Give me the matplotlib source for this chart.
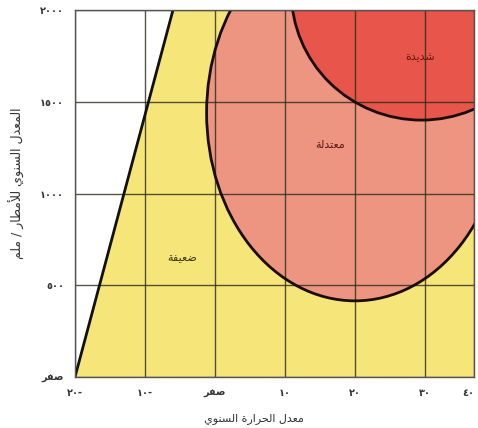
import matplotlib
matplotlib.use('Agg')
import matplotlib.pyplot as plt
from matplotlib.patches import Ellipse

# ---------------- data ----------------
x_ticks = [-20, -10, 0, 10, 20, 30, 37.0]
x_tick_labels = ['٢٠-', '١٠-', 'صفر', '١٠', '٢٠', '٣٠', '٤٠']
x_min, x_max = -20, 37.0
y_ticks = [0, 500, 1000, 1500, 2000]
y_tick_labels = ['صفر', '٥٠٠', '١٠٠٠', '١٥٠٠', '٢٠٠٠']
y_min, y_max = 0, 2000

boundary_x = [-20, -6]      # left limit of the weak zone
boundary_y = [0, 2000]

moderate_center = (20, 1440)
moderate_size = (42.4, 2050)
severe_center = (29.5, 2100)
severe_size = (37.2, 1400)

zone_names = ['ضعيفة', 'معتدلة', 'شديدة']
zone_label_x = [-4.7, 16.4, 29.3]
zone_label_y = [650, 1265, 1745]

x_label = 'معدل الحرارة السنوي'
y_label = 'المعدل السنوي للأمطار / ملم'

# ---------------- simple Arabic shaping ----------------
FORMS = {
    'ا': ('\uFE8D', '\uFE8E', None, None),
    'أ': ('\uFE83', '\uFE84', None, None),
    'ة': ('\uFE93', '\uFE94', None, None),
    'ت': ('\uFE95', '\uFE96', '\uFE97', '\uFE98'),
    'ح': ('\uFEA1', '\uFEA2', '\uFEA3', '\uFEA4'),
    'د': ('\uFEA9', '\uFEAA', None, None),
    'ر': ('\uFEAD', '\uFEAE', None, None),
    'س': ('\uFEB1', '\uFEB2', '\uFEB3', '\uFEB4'),
    'ش': ('\uFEB5', '\uFEB6', '\uFEB7', '\uFEB8'),
    'ص': ('\uFEB9', '\uFEBA', '\uFEBB', '\uFEBC'),
    'ض': ('\uFEBD', '\uFEBE', '\uFEBF', '\uFEC0'),
    'ط': ('\uFEC1', '\uFEC2', '\uFEC3', '\uFEC4'),
    'ع': ('\uFEC9', '\uFECA', '\uFECB', '\uFECC'),
    'ف': ('\uFED1', '\uFED2', '\uFED3', '\uFED4'),
    'ل': ('\uFEDD', '\uFEDE', '\uFEDF', '\uFEE0'),
    'م': ('\uFEE1', '\uFEE2', '\uFEE3', '\uFEE4'),
    'ن': ('\uFEE5', '\uFEE6', '\uFEE7', '\uFEE8'),
    'و': ('\uFEED', '\uFEEE', None, None),
    'ي': ('\uFEF1', '\uFEF2', '\uFEF3', '\uFEF4'),
}
LIGS = {('ل', 'ا'): ('\uFEFB', '\uFEFC'), ('ل', 'أ'): ('\uFEF7', '\uFEF8')}


def shape(text):
    items = []
    i = 0
    while i < len(text):
        c = text[i]
        if i + 1 < len(text) and (c, text[i + 1]) in LIGS:
            items.append(('L', LIGS[(c, text[i + 1])]))
            i += 2
        else:
            items.append(('C', c))
            i += 1

    def is_ar(it):
        return it[0] == 'L' or it[1] in FORMS

    def is_dual(it):
        return it[0] == 'C' and it[1] in FORMS and FORMS[it[1]][2] is not None

    if not any(is_ar(it) for it in items):
        return text
    out = []
    for k, it in enumerate(items):
        if not is_ar(it):
            out.append(it[1])
            continue
        pj = k > 0 and is_dual(items[k - 1])
        nj = is_dual(it) and k + 1 < len(items) and is_ar(items[k + 1])
        if it[0] == 'L':
            out.append(it[1][1] if pj else it[1][0])
            continue
        iso, fin, ini, med = FORMS[it[1]]
        if pj and nj:
            out.append(med)
        elif nj:
            out.append(ini)
        elif pj:
            out.append(fin)
        else:
            out.append(iso)
    return ''.join(reversed(out))


plt.rcParams['font.family'] = ['DejaVu Sans']

# ---------------- figure ----------------
W, H = 478, 428
fig = plt.figure(figsize=(W / 100, H / 100), dpi=100)
ax = fig.add_axes([75 / W, 1 - 377 / H, 399 / W, 367 / H])

yellow = '#f6e679'
salmon = '#ee9582'
red = '#e8554a'

ax.fill_betweenx(boundary_y, boundary_x, x_max, color=yellow, lw=0, zorder=1)
ax.add_patch(Ellipse(moderate_center, *moderate_size, facecolor=salmon,
                     edgecolor='none', zorder=1.2))
ax.add_patch(Ellipse(severe_center, *severe_size, facecolor=red,
                     edgecolor='none', zorder=1.4))

ax.add_patch(Ellipse(moderate_center, *moderate_size, facecolor='none',
                     edgecolor='#1a0c08', lw=2.0, zorder=4))
ax.add_patch(Ellipse(severe_center, *severe_size, facecolor='none',
                     edgecolor='#1a0c08', lw=2.0, zorder=4))
ax.plot(boundary_x, boundary_y, color='#111', lw=2.0, zorder=4,
        solid_capstyle='butt')

ax.set_xlim(x_min, x_max)
ax.set_ylim(y_min, y_max)
ax.set_xticks(x_ticks)
ax.set_xticklabels([shape(t) for t in x_tick_labels])
ax.set_yticks(y_ticks)
ax.set_yticklabels([shape(t) for t in y_tick_labels])
ax.tick_params(length=0, labelsize=7, colors='#333', pad=8)
for lab in ax.get_xticklabels() + ax.get_yticklabels():
    lab.set_fontweight('bold')
ax.get_xticklabels()[-1].set_horizontalalignment('right')

ax.grid(True, color='#2a2a1a', alpha=0.8, lw=1.0, zorder=3)
ax.set_axisbelow(False)
for s in ax.spines.values():
    s.set_color('#555')
    s.set_linewidth(1.0)
    s.set_zorder(5)

zone_colors = ['#3a3410', '#5a1a10', '#6a1410']
for name, zx, zy, zc in zip(zone_names, zone_label_x, zone_label_y, zone_colors):
    ax.text(zx, zy, shape(name), ha='center', va='center', fontsize=8,
            color=zc, zorder=6)

fig.text(254 / W, 1 - 419 / H, shape(x_label), ha='center', va='center',
         fontsize=8, color='#333')
fig.text(17 / W, 1 - 183 / H, shape(y_label), ha='center', va='center',
         rotation=90, fontsize=9, color='#333')

fig.savefig('out.png', dpi=100)
